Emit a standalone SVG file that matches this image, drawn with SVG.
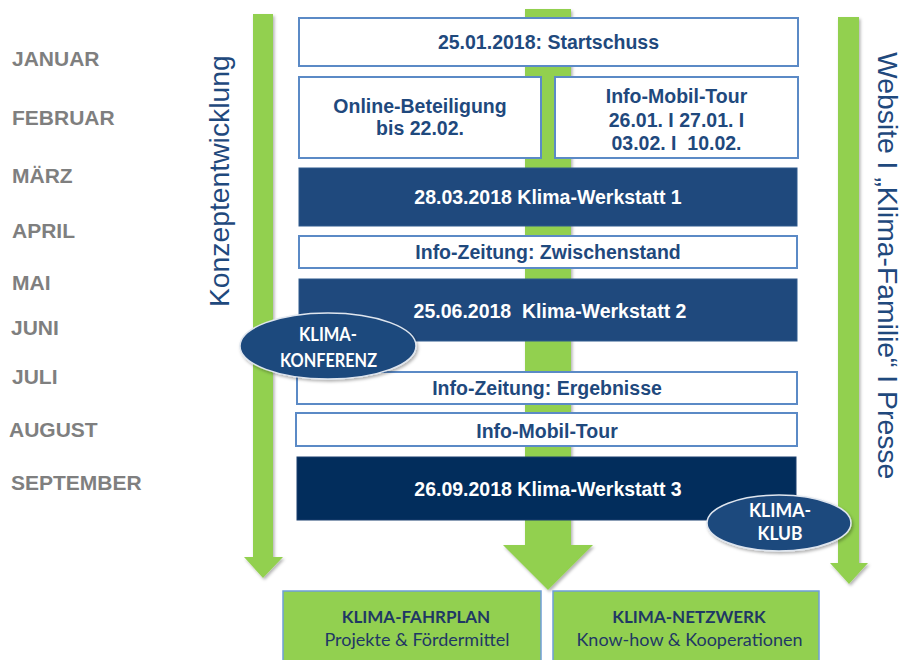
<svg xmlns="http://www.w3.org/2000/svg" width="904" height="660" viewBox="0 0 904 660">
<defs>
<filter id="sh" x="-20%" y="-20%" width="140%" height="140%"><feDropShadow dx="1.5" dy="2" stdDeviation="1.5" flood-color="#000" flood-opacity="0.3"/></filter>
<style>
.month{font-family:"Liberation Sans",Arial,sans-serif;font-weight:bold;font-size:21px;fill:#7f7f7f}
.side{font-family:"Liberation Sans",Arial,sans-serif;font-size:28.3px;fill:#1f497d}
.wbox{fill:#fff;stroke:#5b8ac6;stroke-width:2}
.dbox{fill:#1f497d;stroke:#2e5a8e;stroke-width:1}
.dbox3{fill:#022d5c;stroke:#1b3f6e;stroke-width:1}
.bt{font-family:"Liberation Sans",Arial,sans-serif;font-weight:bold;font-size:19.5px;fill:#1f497d;text-anchor:middle}
.wt{font-family:"Liberation Sans",Arial,sans-serif;font-weight:bold;font-size:19.5px;fill:#fff;text-anchor:middle}
.ell{fill:#1f497d;stroke:#dfe6ef;stroke-width:1.5}
.et{font-family:Lato,"Open Sans",sans-serif;font-weight:bold;font-size:19px;fill:#fff;text-anchor:middle}
.gbox{fill:#92d050;stroke:#6f9fd8;stroke-width:1.5}
.gt1{font-family:Lato,"Open Sans",sans-serif;font-weight:bold;font-size:17px;fill:#1f3864;text-anchor:middle}
.gt2{font-family:Lato,"Open Sans",sans-serif;font-size:18px;fill:#1f3864;text-anchor:middle}
.arrow{fill:#92d050}
</style>
</defs>
<rect width="904" height="660" fill="#fff"/>

<g id="months">
<text class="month" x="12" y="66">JANUAR</text>
<text class="month" x="12" y="125">FEBRUAR</text>
<text class="month" x="12" y="183">MÄRZ</text>
<text class="month" x="12" y="238">APRIL</text>
<text class="month" x="12" y="290">MAI</text>
<text class="month" x="11" y="335">JUNI</text>
<text class="month" x="12" y="384">JULI</text>
<text class="month" x="9" y="437">AUGUST</text>
<text class="month" x="11" y="490">SEPTEMBER</text>
</g>

<g id="connectors">
<path class="arrow" filter="url(#sh)" d="M253,14 H273 V557 H283 L263,578 L244,557 H253 Z"/>
<path class="arrow" filter="url(#sh)" d="M525,9 H571 V545 H593 L548,590 L503,545 H525 Z"/>
<path class="arrow" filter="url(#sh)" d="M838,17 H859 V563 H868 L849,584 L830,563 H838 Z"/>
</g>

<g id="label-konzept">
<text class="side" transform="translate(229,307) rotate(-90)">Konzeptentwicklung</text>
</g>
<g id="label-website">
<text class="side" transform="translate(878,52) rotate(90)">Website I „Klima-Familie“ I Presse</text>
</g>

<g id="startschuss">
<rect class="wbox" x="299" y="18" width="499" height="48"/>
<text class="bt" x="548.5" y="49">25.01.2018: Startschuss</text>
</g>
<g id="online">
<rect class="wbox" x="299" y="77" width="242" height="81"/>
<text class="bt" x="420" y="113">Online-Beteiligung</text>
<text class="bt" x="420" y="135">bis 22.02.</text>
</g>
<g id="infomobil1">
<rect class="wbox" x="555" y="77" width="243" height="81"/>
<text class="bt" x="676.5" y="103">Info-Mobil-Tour</text>
<text class="bt" x="676.5" y="127">26.01. I 27.01. I</text>
<text class="bt" x="676.5" y="150" xml:space="preserve">03.02. I  10.02.</text>
</g>
<g id="werkstatt1">
<rect class="dbox" x="299" y="168" width="498" height="58"/>
<text class="wt" x="548" y="204">28.03.2018 Klima-Werkstatt 1</text>
</g>
<g id="zwischenstand">
<rect class="wbox" x="299" y="236" width="498" height="32"/>
<text class="bt" x="548" y="259">Info-Zeitung: Zwischenstand</text>
</g>
<g id="werkstatt2">
<rect class="dbox" x="299" y="279" width="498" height="62"/>
<text class="wt" x="550" y="318" xml:space="preserve">25.06.2018  Klima-Werkstatt 2</text>
</g>
<g id="ergebnisse">
<rect class="wbox" x="297" y="372" width="500" height="32"/>
<text class="bt" x="547" y="395">Info-Zeitung: Ergebnisse</text>
</g>
<g id="infomobil2">
<rect class="wbox" x="296" y="413" width="501" height="33"/>
<text class="bt" x="547" y="438">Info-Mobil-Tour</text>
</g>
<g id="werkstatt3">
<rect class="dbox3" x="297" y="457" width="499" height="63"/>
<text class="wt" x="548" y="496">26.09.2018 Klima-Werkstatt 3</text>
</g>

<g id="konferenz">
<ellipse class="ell" filter="url(#sh)" cx="328" cy="346" rx="88" ry="33"/>
<text class="et" x="328" y="341" textLength="58" lengthAdjust="spacingAndGlyphs">KLIMA-</text>
<text class="et" x="328.5" y="367" textLength="97" lengthAdjust="spacingAndGlyphs">KONFERENZ</text>
</g>
<g id="klub">
<ellipse class="ell" filter="url(#sh)" cx="779" cy="523" rx="72" ry="28"/>
<text class="et" x="780" y="517" textLength="62" lengthAdjust="spacingAndGlyphs">KLIMA-</text>
<text class="et" x="780" y="540" textLength="45" lengthAdjust="spacingAndGlyphs">KLUB</text>
</g>

<g id="fahrplan">
<rect class="gbox" x="283" y="591" width="258" height="72"/>
<text class="gt1" x="416" y="623">KLIMA-FAHRPLAN</text>
<text class="gt2" x="417" y="646">Projekte &amp; Fördermittel</text>
</g>
<g id="netzwerk">
<rect class="gbox" x="553" y="591" width="266" height="72"/>
<text class="gt1" x="689" y="623">KLIMA-NETZWERK</text>
<text class="gt2" x="689.5" y="646">Know-how &amp; Kooperationen</text>
</g>
</svg>
